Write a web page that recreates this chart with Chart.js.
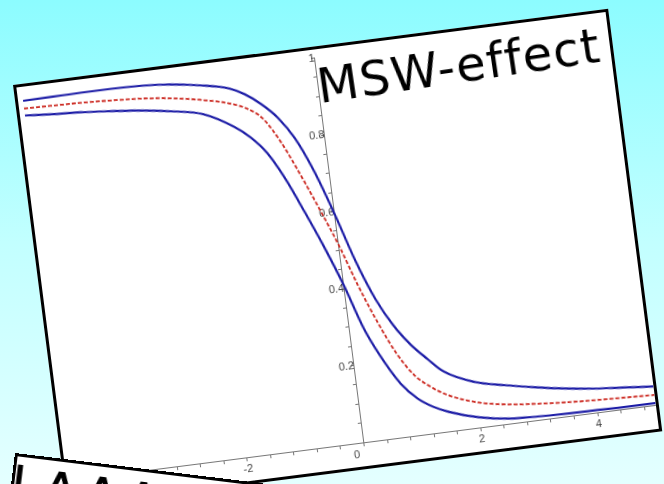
<!DOCTYPE html>
<html>
<head>
<meta charset="utf-8">
<script src="https://cdn.jsdelivr.net/npm/chart.js@4/dist/chart.umd.min.js"></script>
<style>
html,body{margin:0;padding:0;width:664px;height:484px;overflow:hidden;}
body{position:relative;background:linear-gradient(to bottom,#8cfcff 0%,#c2ffff 50%,#e4ffff 100%);}
#paper{position:absolute;left:13px;top:85px;width:600px;height:426px;box-sizing:border-box;border:3px solid #000;background:#fff;transform-origin:0 0;transform:rotate(-7.3deg);}
#paper canvas{position:absolute;left:0;top:0;}
#title{position:absolute;left:299px;top:13px;font-family:"DejaVu Sans",sans-serif;font-size:48px;letter-spacing:1.3px;line-height:1;white-space:nowrap;color:#000;transform-origin:0 41px;transform:rotate(-1.1deg);}
#note{position:absolute;left:15px;top:453px;width:460px;height:200px;box-sizing:border-box;border:3px solid #000;background:#fff;transform-origin:0 0;transform:rotate(7deg);overflow:hidden;}
#note div{position:absolute;left:-4px;top:4px;font-family:"DejaVu Sans",sans-serif;font-size:58px;line-height:1;white-space:nowrap;color:#000;}
#note span.l{margin-right:14px;}
</style>
</head>
<body>
<div id="paper">
  <canvas id="c" width="594" height="420"></canvas>
  <div id="title">MSW-effect</div>
</div>
<div id="note"><div><span class="l">l</span>AAAAA</div></div>
<script>
// x positions of the sampled curve points
const xValues = [-5, -4.5, -4, -3.5, -3, -2.5, -2, -1.5, -1.25, -1, -0.75, -0.5, -0.25, 0, 0.25, 0.5, 0.75, 1, 1.25, 1.5, 2, 2.5, 3, 3.5, 4, 4.5, 5];
// upper blue curve
const upperBlue = [0.986, 0.987, 0.988, 0.988, 0.986, 0.980, 0.968, 0.950, 0.930, 0.900, 0.860, 0.800, 0.710, 0.595, 0.468, 0.365, 0.290, 0.235, 0.193, 0.155, 0.118, 0.100, 0.085, 0.072, 0.062, 0.055, 0.048];
// middle red dashed curve
const middleRed = [0.966, 0.964, 0.962, 0.958, 0.953, 0.944, 0.930, 0.910, 0.893, 0.862, 0.797, 0.710, 0.615, 0.515, 0.400, 0.300, 0.215, 0.155, 0.120, 0.095, 0.065, 0.050, 0.042, 0.036, 0.032, 0.029, 0.026];
// lower blue curve
const lowerBlue = [0.948, 0.942, 0.937, 0.930, 0.922, 0.910, 0.893, 0.850, 0.818, 0.772, 0.700, 0.610, 0.515, 0.410, 0.290, 0.205, 0.138, 0.095, 0.068, 0.050, 0.026, 0.013, 0.009, 0.007, 0.006, 0.005, 0.005];

const xTickValues = [-4, -2, 0, 2, 4];
const xTickLabels = ['-4', '-2', '0', '2', '4'];
const yTickValues = [0.2, 0.4, 0.6, 0.8, 1];
const yTickLabels = ['0.2', '0.4', '0.6', '0.8', '1'];

const pts = arr => xValues.map((x, i) => ({x: x, y: arr[i]}));
const BLUE = '#1c1ca6', RED = '#cc2a22';

new Chart(document.getElementById('c').getContext('2d'), {
  type: 'line',
  data: {
    datasets: [
      {data: pts(upperBlue), borderColor: BLUE, borderWidth: 2.2, pointRadius: 0, cubicInterpolationMode: 'monotone', fill: false},
      {data: pts(middleRed), borderColor: RED, borderWidth: 1.8, borderDash: [4, 2], pointRadius: 0, cubicInterpolationMode: 'monotone', fill: false},
      {data: pts(lowerBlue), borderColor: BLUE, borderWidth: 2.2, pointRadius: 0, cubicInterpolationMode: 'monotone', fill: false}
    ]
  },
  options: {
    responsive: false,
    animation: false,
    devicePixelRatio: 1,
    plugins: {legend: {display: false}, tooltip: {enabled: false}},
    layout: {padding: {left: 5, right: 0, top: 6, bottom: 24}},
    scales: {
      x: {
        type: 'linear', min: -5, max: 5,
        position: {y: 0},
        afterBuildTicks: axis => {
          const t = [];
          for (let k = -12; k <= 12; k++) t.push({value: Math.round(k * 4) / 10});
          axis.ticks = t;
        },
        ticks: {
          autoSkip: false, maxRotation: 0, padding: 2,
          color: '#444', font: {family: 'Liberation Sans', size: 11},
          callback: v => {
            const i = xTickValues.findIndex(t => Math.abs(t - v) < 1e-6);
            if (i < 0) return '';
            return xTickLabels[i] === '0' ? '0\u2003\u2002' : xTickLabels[i];
          }
        },
        grid: {drawOnChartArea: false, drawTicks: true, tickLength: 3, color: '#777'},
        border: {display: true, color: '#777', width: 1}
      },
      y: {
        type: 'linear', min: 0, max: 1,
        position: {x: 0},
        ticks: {
          stepSize: 0.05, autoSkip: false, padding: 2,
          color: '#444', font: {family: 'Liberation Sans', size: 11},
          callback: v => {
            const i = yTickValues.findIndex(t => Math.abs(t - v) < 1e-6);
            return i < 0 ? '' : yTickLabels[i];
          }
        },
        grid: {drawOnChartArea: false, drawTicks: true, tickLength: 3, color: '#777'},
        border: {display: true, color: '#777', width: 1}
      }
    }
  }
});
</script>
</body>
</html>
